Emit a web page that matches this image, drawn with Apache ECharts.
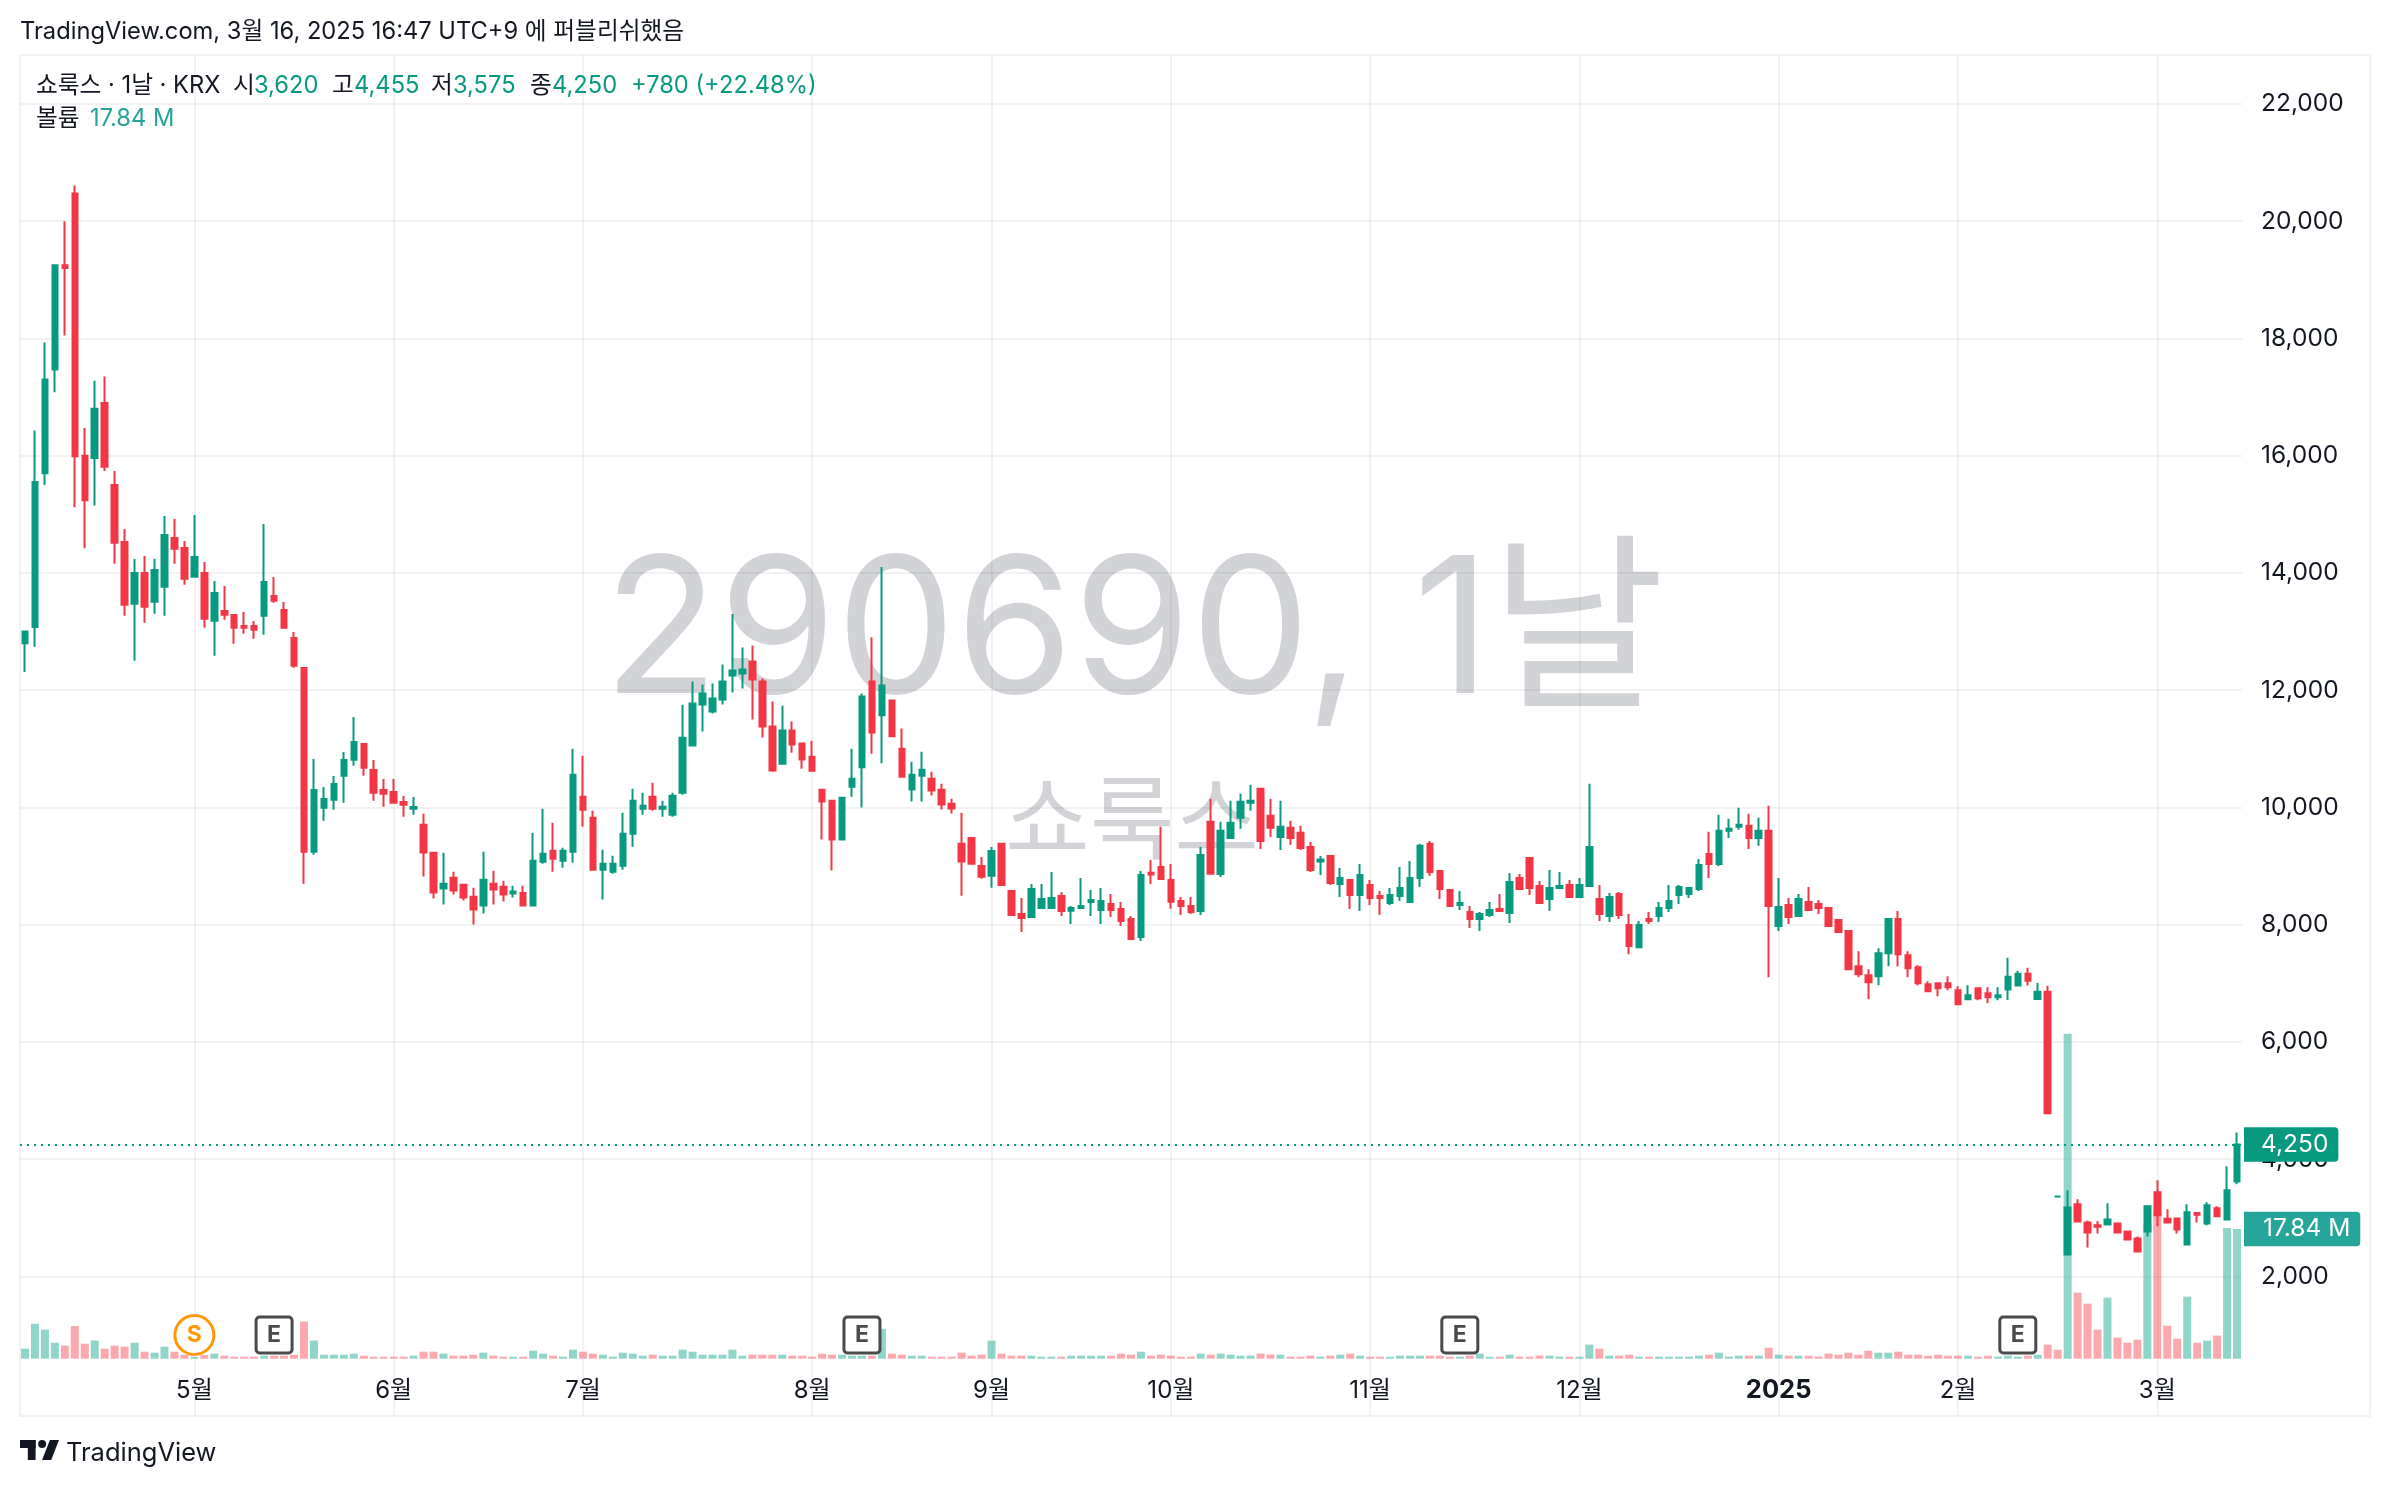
<!DOCTYPE html>
<html lang="ko">
<head>
<meta charset="utf-8">
<title>쇼룩스 290690 일봉</title>
<style>
  html, body { margin: 0; padding: 0; background: #ffffff; }
  #chart { width: 2390px; height: 1486px; }
</style>
<script src="https://cdn.jsdelivr.net/npm/echarts@6/dist/echarts.min.js"></script>
</head>
<body>
<div id="chart"></div>
<script>
// Daily OHLC prices in KRW, oldest session first.
const opens = [
  12800,13080,15700,17470,19250,20470,16000,15960,16900,15500,
  14527,13475,14000,13510,13765,14595,14425,13935,14000,13185,
  13350,13282,13095,13095,13270,13606,13367,12890,12378,9245,
  9995,10132,10541,10814,11082,10638,10297,10263,10092,9978,
  9704,9226,8617,8799,8680,8475,8327,8697,8646,8532,
  8543,8327,9073,9260,9090,9243,10182,9824,8936,8902,
  9004,9550,9977,10182,9977,9875,10250,11055,11755,11636,
  11841,12250,12284,12489,12148,11380,10746,11312,11090,10865,
  10302,10114,9453,10353,10684,12149,11573,11824,11003,10308,
  10542,10490,10302,10063,9379,9481,9003,8837,9379,8575,
  8182,8131,8285,8285,8490,8240,8285,8388,8251,8353,
  8268,8097,7789,8885,8985,8763,8405,8319,8233,9755,
  8866,9481,9823,10080,10319,9858,9498,9652,9567,9327,
  9077,9173,8695,8763,8507,8678,8490,8370,8490,8387,
  8797,9379,8917,8592,8336,8216,8096,8165,8267,8199,
  8797,9139,8660,8438,8626,8678,8472,8660,8438,8148,
  8524,7994,7617,8096,8148,8284,8507,8524,8609,9208,
  9037,9601,9669,9687,9481,9601,7977,8336,8148,8387,
  8353,8284,8079,7891,7293,7139,7122,7515,8096,7481,
  7276,6985,7002,7002,6882,6728,6916,6831,6763,6895,
  6963,7162,6735,6855,3365,2376,3231,2923,2872,2889,
  2906,2769,2650,2769,3436,2986,2991,2547,3083,2906,
  3162,2974,3620
];
const closes = [
  13000,15550,17300,19250,19200,15990,15240,16800,15810,14516,
  13458,14000,13424,14050,14646,14414,13900,14270,13220,13657,
  13288,13066,13066,13032,13845,13527,13066,12418,9245,10297,
  10143,10399,10809,11116,10678,10251,10234,10081,10047,10007,
  9232,8549,8697,8583,8464,8259,8765,8600,8515,8566,
  8327,9090,9209,9124,9260,10558,9960,8936,9038,9038,
  9550,10114,10028,9977,10011,10199,11189,11772,11943,11858,
  12148,12336,12353,12182,11380,10629,11312,11073,10817,10626,
  10103,9453,10165,10490,11892,11277,12080,11214,10524,10559,
  10644,10291,10051,9983,9077,9042,8820,9259,8678,8165,
  8114,8610,8439,8456,8234,8285,8319,8422,8405,8251,
  8063,7755,8849,8855,8780,8393,8319,8217,9191,8871,
  9601,9738,10097,10114,9430,9652,9669,9481,9310,8934,
  9111,8712,8797,8507,8849,8455,8455,8507,8626,8797,
  9345,8900,8609,8319,8370,8096,8182,8250,8233,8729,
  8609,8626,8370,8626,8660,8472,8678,9327,8182,8472,
  8165,7635,7994,8062,8284,8404,8643,8626,9020,9037,
  9601,9635,9704,9481,9601,8319,8301,8130,8438,8250,
  8284,7977,7874,7241,7155,7019,7515,8096,7498,7259,
  7002,6865,6916,6933,6643,6797,6746,6763,6797,7111,
  7162,7043,6855,4786,3365,3179,2940,2752,2849,2974,
  2752,2632,2427,3197,3043,2923,2803,3094,3054,3214,
  3026,3470,4250
];
const highs = [
  13000,16430,17930,19250,20000,20610,16470,17280,17350,15738,
  14749,14237,14290,14240,14970,14920,14544,14988,14186,13862,
  13777,13300,13333,13180,14834,13930,13504,12992,12378,10826,
  10348,10536,10945,11542,11082,10809,10485,10485,10195,10178,
  9892,9226,9226,8902,8680,8629,9243,8919,8748,8663,
  8663,9568,9977,9738,9312,11001,10882,9943,9277,9175,
  9909,10319,10250,10421,10114,10250,11752,12148,12097,12114,
  12438,13300,12728,12762,12199,11806,11735,11465,11090,11138,
  10302,10114,10165,11003,11944,12901,14100,11824,11345,10781,
  10952,10610,10405,10148,9909,9481,9156,9327,9379,8576,
  8456,8695,8695,8900,8559,8319,8798,8593,8627,8524,
  8388,8148,8918,9105,9670,9037,8473,8473,9327,10148,
  9755,10114,10234,10388,10319,10148,10114,9772,9687,9413,
  9173,9173,8968,8763,9037,8763,8575,8626,8985,9088,
  9379,9430,8917,8609,8575,8319,8216,8387,8524,8883,
  8866,9139,8746,8934,8900,8763,8797,10405,8678,8541,
  8558,8182,8062,8216,8387,8678,8678,8643,9122,9584,
  9875,9806,9994,9892,9823,10028,8797,8455,8524,8643,
  8421,8284,8079,7891,7549,7241,7600,8113,8233,7549,
  7310,7036,7019,7122,6950,6968,6933,6933,6933,7436,
  7214,7265,7008,6957,3365,3470,3316,2957,2946,3248,
  2923,2786,2684,3197,3641,3145,2991,3231,3094,3265,
  3197,3880,4455
];
const lows = [
  12310,12740,15500,17080,18050,15120,14420,15150,15740,14158,
  13271,12503,13150,13305,13270,14158,13800,13935,13066,12588,
  13200,12793,12964,12878,12947,13492,13049,12384,8700,9194,
  9774,9961,10081,10712,10541,10115,10012,10081,9842,9876,
  8822,8447,8344,8515,8412,8003,8190,8344,8395,8464,
  8327,8327,9039,8902,8970,9055,9670,8919,8430,8868,
  8936,9329,9875,9943,9841,9841,10216,11038,11294,11602,
  11755,11960,12028,11500,11192,10609,10746,10933,10660,10626,
  9453,8923,9453,10182,10000,10918,10752,11197,10513,10103,
  10103,10205,9966,9897,8495,9042,8786,8632,8666,8165,
  7875,8131,8285,8285,8148,8011,8268,8148,8011,8131,
  7977,7755,7721,8695,8763,8273,8165,8182,8165,8871,
  8814,9481,9635,9943,9293,9498,9276,9362,9276,8900,
  8849,8678,8472,8267,8233,8336,8165,8336,8404,8387,
  8643,8832,8438,8301,8250,7942,7891,8130,8216,8028,
  8609,8507,8370,8233,8609,8455,8472,8643,8062,8045,
  8096,7498,7617,8011,8045,8216,8353,8455,8575,8797,
  9003,9481,9618,9293,9345,7104,7891,8011,8148,8250,
  8182,7960,7874,7241,7104,6728,6968,7293,7293,7104,
  6968,6848,6780,6882,6643,6728,6711,6660,6711,6718,
  6963,6963,6735,4786,3365,2376,2940,2496,2735,2872,
  2752,2615,2410,2684,2855,2923,2735,2547,2923,2872,
  3026,2974,3575
];
// Traded volume in millions of shares.
const volumes = [
  1.38,4.8,4.0,2.2,1.8,4.5,2.06,2.5,1.38,1.8,
  1.65,2.2,.96,.83,1.65,.96,.55,.25,.5,.69,
  .41,.28,.28,.28,.41,.41,.41,.55,5.1,2.5,
  .55,.55,.55,.69,.41,.28,.28,.28,.28,.41,
  .96,.96,.69,.41,.41,.55,.83,.41,.28,.28,
  .28,1.1,.69,.41,.28,1.24,.96,.69,.55,.28,
  .83,.69,.41,.55,.41,.41,1.24,.96,.55,.55,
  .55,1.24,.41,.55,.55,.55,.55,.41,.41,.28,
  .69,.55,.55,.41,.41,.41,4.1,.69,.55,.41,
  .41,.28,.28,.28,.83,.41,.55,2.48,.69,.41,
  .41,.41,.28,.28,.28,.41,.41,.41,.41,.41,
  .69,.55,.96,.41,.55,.41,.28,.28,.69,.55,
  .69,.55,.41,.41,.69,.55,.55,.28,.28,.41,
  .28,.41,.55,.69,.41,.28,.28,.28,.41,.41,
  .41,.41,.41,.28,.28,.41,.69,.28,.28,.55,
  .28,.28,.41,.41,.28,.28,.28,1.93,1.38,.41,
  .41,.55,.28,.28,.28,.28,.28,.28,.41,.55,
  .83,.28,.41,.41,.41,1.51,.55,.41,.41,.41,
  .28,.69,.55,.83,.55,1.1,.83,.83,.96,.55,
  .55,.41,.55,.41,.41,.41,.28,.41,.28,.41,
  .28,.41,.55,1.93,1.24,44.7,9.08,7.57,3.99,8.39,
  2.89,2.2,2.61,18.5,20,4.54,2.75,8.53,2.2,2.48,
  3.17,17.98,17.84
];
// Session index of the first trading day of each labelled period.
const tickIndexes = [17, 37, 56, 79, 97, 115, 135, 156, 176, 194, 214];
const tickLabels = ['5월', '6월', '7월', '8월', '9월', '10월', '11월', '12월', '2025', '2월', '3월'];
// Corporate events: earnings (E) and split (S).
const eventIndexes = [17, 25, 84, 144, 200];
const eventKinds = ['S', 'E', 'E', 'E', 'E'];

const lastPrice = 4250;
const lastVolume = 17.84;

const UP = '#089981', DOWN = '#f23645';
const VOL_UP = 'rgba(34,171,148,0.5)', VOL_DOWN = 'rgba(247,82,95,0.5)';
const INK = '#131722';
const GRID = 'rgba(0,0,0,0.05)';
const WATERMARK = '#d2d3d7';
const FONT = "Inter, 'Noto Sans CJK KR', sans-serif";
// Square badge with small corner radii for earnings events.
const BADGE = 'path://M2 0H18A2 2 0 0 1 20 2V18A2 2 0 0 1 18 20H2A2 2 0 0 1 0 18V2A2 2 0 0 1 2 0Z';

const categories = opens.map((_, i) => {
  const at = tickIndexes.indexOf(i);
  return at >= 0 ? tickLabels[at] : '';
});
const isTick = i => tickIndexes.indexOf(i) >= 0;

const candles = opens.map((o, i) => [o, closes[i], lows[i], highs[i]]);
const volumeBars = volumes.map((v, i) => ({
  value: v,
  itemStyle: { color: closes[i] > opens[i] ? VOL_UP : VOL_DOWN }
}));
const eventMarks = eventIndexes.map((idx, i) => {
  const split = eventKinds[i] === 'S';
  const tint = split ? '#ff9800' : '#4a4a4a';
  return {
    coord: [idx, 3.26],
    symbol: split ? 'circle' : BADGE,
    symbolSize: split ? 39 : 36,
    itemStyle: { color: '#ffffff', borderColor: tint, borderWidth: 3 },
    label: { show: true, position: 'inside', formatter: eventKinds[i], color: tint, fontFamily: FONT, fontWeight: 700, fontSize: 23 }
  };
});

const label = (text, x, y, fill, extra) => ({
  type: 'text', x, y, z: 10, silent: true,
  style: Object.assign({ text, fill, font: `23.7px ${FONT}`, textVerticalAlign: 'middle' }, extra || {})
});

const chart = echarts.init(document.getElementById('chart'), null, { renderer: 'canvas' });
chart.setOption({
  animation: false,
  backgroundColor: '#ffffff',
  grid: [
    { left: 20, width: 2222, top: 103.9, height: 1172.6 },
    { left: 20, width: 2222, top: 55, height: 1360.7 }
  ],
  xAxis: [
    { type: 'category', gridIndex: 0, data: categories, show: false },
    {
      type: 'category', gridIndex: 1, data: categories,
      axisLine: { show: false }, axisTick: { show: false },
      axisLabel: {
        inside: true, margin: 13, interval: isTick, fontFamily: FONT, fontSize: 24, color: INK,
        formatter: v => v === '2025' ? '{year|2025}' : v,
        rich: { year: { fontFamily: FONT, fontSize: 25.5, fontWeight: 700, color: INK } }
      },
      splitLine: { show: true, interval: isTick, alignWithLabel: true, lineStyle: { color: GRID, width: 2 } }
    }
  ],
  yAxis: [
    {
      type: 'value', gridIndex: 0, position: 'right', min: 2000, max: 22000, interval: 2000,
      axisLine: { show: false }, axisTick: { show: false },
      axisLabel: { margin: 19, fontFamily: FONT, fontSize: 24.5, color: INK, formatter: v => v.toLocaleString('en-US') },
      splitLine: { show: true, lineStyle: { color: GRID, width: 2 } }
    },
    { type: 'value', gridIndex: 1, min: -7.84, max: 179.3, show: false, splitLine: { show: false } }
  ],
  series: [
    {
      name: '볼륨', type: 'bar', xAxisIndex: 1, yAxisIndex: 1, barWidth: 8, z: 1,
      data: volumeBars,
      markLine: {
        silent: true, symbol: 'none', animation: false,
        lineStyle: { color: 'rgba(0,0,0,0)', width: 0 },
        data: [{ yAxis: lastVolume }],
        label: {
          show: true, position: 'end', distance: 2, formatter: '17.84 M', color: '#ffffff',
          backgroundColor: '#26a69a', fontFamily: FONT, fontSize: 24.5,
          padding: [5, 10, 5, 19], borderRadius: [0, 4, 4, 0]
        }
      },
      markPoint: { silent: true, animation: false, z: 6, data: eventMarks }
    },
    {
      name: '쇼룩스', type: 'candlestick', xAxisIndex: 0, yAxisIndex: 0, barWidth: 6, z: 3,
      data: candles,
      itemStyle: {
        color: UP, color0: DOWN, borderColor: UP, borderColor0: DOWN,
        borderColorDoji: UP, borderWidth: 2
      },
      markLine: {
        silent: true, symbol: 'none', animation: false,
        lineStyle: { color: UP, width: 2, type: [2, 5] },
        data: [{ yAxis: lastPrice }],
        label: {
          position: 'end', distance: 2, formatter: '4,250', color: '#ffffff',
          backgroundColor: UP, fontFamily: FONT, fontSize: 24.5,
          padding: [5, 10, 5, 17], borderRadius: [0, 4, 4, 0]
        }
      }
    }
  ],
  graphic: [
    { type: 'rect', z: -2, silent: true, shape: { x: 20, y: 55, width: 2350, height: 1361 },
      style: { fill: 'none', stroke: '#f2f2f2', lineWidth: 2 } },
    { type: 'text', z: -1, silent: true, x: 1134, y: 636,
      style: { text: '290690, 1날', fill: WATERMARK, font: `189.5px ${FONT}`, textAlign: 'center', textVerticalAlign: 'middle' } },
    { type: 'text', z: -1, silent: true, x: 1132, y: 824,
      style: { text: '쇼룩스', fill: WATERMARK, font: `92px ${FONT}`, textAlign: 'center', textVerticalAlign: 'middle' } },
    label('TradingView.com, 3월 16, 2025 16:47 UTC+9 에 퍼블리쉬했음', 20, 32, INK),
    label('쇼룩스 · 1날 · KRX', 36, 86, INK),
    label('시', 233, 86, INK), label('3,620', 254, 86, UP),
    label('고', 332, 86, INK), label('4,455', 354, 86, UP),
    label('저', 431, 86, INK), label('3,575', 453, 86, UP),
    label('종', 530, 86, INK), label('4,250', 552, 86, UP),
    label('+780 (+22.48%)', 631, 86, UP),
    label('볼륨', 36, 119, INK), label('17.84 M', 90, 119, '#26a69a'),
    // TradingView logotype, built from a bar, a stem, a dot and a slash
    { type: 'rect', silent: true, z: 10, shape: { x: 20, y: 1440, width: 15.6, height: 8 }, style: { fill: INK } },
    { type: 'rect', silent: true, z: 10, shape: { x: 27.8, y: 1440, width: 7.8, height: 20 }, style: { fill: INK } },
    { type: 'circle', silent: true, z: 10, shape: { cx: 42.1, cy: 1444, r: 4 }, style: { fill: INK } },
    { type: 'polygon', silent: true, z: 10, shape: { points: [[42.1, 1460], [49.9, 1440], [59, 1440], [51.2, 1460]] }, style: { fill: INK } },
    label('TradingView', 66, 1453, INK, { font: `25.5px ${FONT}` })
  ]
});
</script>
</body>
</html>
